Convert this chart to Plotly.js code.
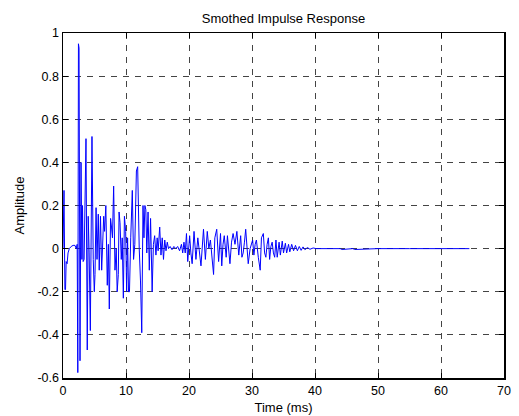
<!DOCTYPE html>
<html>
<head>
<meta charset="utf-8">
<script src="https://cdn.plot.ly/plotly-3.0.1.min.js"></script>
<style>html,body{margin:0;padding:0;background:#fff;}#chart{width:519px;height:416px;}</style>
</head>
<body>
<div id="chart"></div>
<script>
// Time (ms) and amplitude samples
var timeMs = [
  0.00,0.08,0.16,0.30,0.40,0.50,0.65,0.80,1.00,1.30,1.60,1.90,2.10,2.25,2.35,2.45,2.55,2.70,2.86,3.00,
  3.10,3.20,3.35,3.65,3.85,4.00,4.15,4.34,4.60,4.80,4.97,5.08,5.25,5.40,5.60,5.75,5.95,6.14,6.30,6.46,
  6.60,6.80,7.03,7.20,7.35,7.55,7.70,7.85,8.04,8.25,8.45,8.60,8.78,8.90,9.05,9.25,9.40,9.58,9.75,9.95,
  10.10,10.25,10.40,10.55,10.75,11.00,11.20,11.40,11.65,11.85,12.10,12.30,12.50,12.70,12.85,13.00,13.15,13.30,13.50,13.70,
  13.90,14.15,14.35,14.55,14.75,14.95,15.10,15.35,15.55,15.75,15.95,16.15,16.35,16.55,16.75,17.00,17.30,17.60,17.90,18.20,
  18.50,18.80,19.00,19.20,19.40,19.60,19.80,20.10,20.30,20.50,20.80,21.10,21.40,21.65,21.90,22.30,22.60,22.90,23.15,23.40,
  23.65,23.90,24.10,24.40,24.70,25.00,25.20,25.40,25.60,25.90,26.10,26.30,26.50,26.75,27.00,27.30,27.60,27.90,28.20,28.40,
  28.60,28.80,29.00,29.40,29.70,30.10,30.30,30.50,30.70,31.00,31.30,31.50,31.80,32.00,32.20,32.40,32.60,32.80,33.00,33.20,
  33.40,33.60,33.80,34.00,34.30,34.50,34.80,35.00,35.30,35.50,35.80,36.00,36.30,36.60,36.90,37.20,37.50,37.80,38.10,38.40,
  38.80,39.20,39.70,40.20,42.00,44.00,44.30,46.00,46.30,50.00,55.00,60.00,64.50
];
var amplitude = [
  0.00,0.27,0.27,-0.19,-0.19,-0.06,-0.07,-0.02,0.00,0.01,0.015,0.015,0.00,0.02,-0.575,0.95,0.93,-0.52,0.40,-0.05,
  0.20,-0.06,-0.05,0.51,-0.47,0.15,-0.02,-0.38,0.52,-0.05,-0.20,-0.12,0.19,-0.05,0.16,-0.10,0.15,-0.10,0.08,0.15,
  0.08,0.20,-0.17,0.02,-0.28,0.14,0.10,0.05,0.29,-0.10,0.00,-0.20,-0.12,0.17,0.12,-0.05,0.05,-0.23,0.15,0.08,
  -0.20,0.05,-0.20,-0.20,0.05,0.27,-0.05,0.02,0.36,0.38,0.00,-0.15,-0.39,0.20,0.05,0.20,0.18,-0.02,0.17,-0.10,
  0.14,-0.20,0.02,0.06,-0.03,0.05,-0.01,0.10,-0.03,0.05,-0.05,0.04,-0.01,0.03,0.00,0.01,-0.005,0.01,0.00,0.01,
  -0.01,0.02,-0.02,0.03,-0.02,0.07,-0.06,0.06,-0.02,-0.07,0.08,-0.05,0.05,-0.03,-0.08,0.09,-0.05,0.08,0.00,0.04,
  -0.03,-0.12,0.05,0.09,-0.06,0.07,-0.08,0.02,0.06,-0.04,0.06,-0.02,-0.07,0.03,0.07,0.02,0.08,-0.03,0.06,-0.04,
  -0.02,0.03,0.09,-0.07,0.00,0.04,-0.03,0.02,0.04,-0.04,-0.10,0.05,0.07,-0.02,-0.04,0.02,0.05,-0.05,0.01,0.03,
  -0.02,-0.04,0.04,-0.04,0.03,-0.03,0.035,-0.02,0.025,-0.02,0.02,-0.015,0.02,-0.01,0.015,-0.01,0.01,-0.008,0.008,-0.005,
  0.005,-0.003,0.003,0.00,0.00,0.00,-0.004,0.00,-0.004,0.00,0.00,0.00,0.00
];
var xTickVals = [0,10,20,30,40,50,60,70];
var xTickText = ["0","10","20","30","40","50","60","70"];
var yTickVals = [-0.6,-0.4,-0.2,0,0.2,0.4,0.6,0.8,1];
var yTickText = ["-0.6","-0.4","-0.2","0","0.2","0.4","0.6","0.8","1"];

var fontFam = "Liberation Sans, Arial, sans-serif";
var trace = {
  x: timeMs, y: amplitude, type: "scatter", mode: "lines",
  line: {color: "#0000ff", width: 1}, hoverinfo: "skip"
};
var axisCommon = {
  showline: true, linecolor: "#000", linewidth: 1.5, mirror: "ticks",
  ticks: "inside", ticklen: 5, tickcolor: "#000", tickwidth: 1,
  showgrid: true, gridcolor: "#444", gridwidth: 1, griddash: "6px,6px",
  zeroline: false, tickfont: {family: fontFam, size: 12.5, color: "#000"},
  tickmode: "array", fixedrange: true
};
var layout = {
  width: 519, height: 416,
  margin: {l: 63, r: 15, t: 33, b: 38},
  paper_bgcolor: "#fff", plot_bgcolor: "#fff",
  showlegend: false,
  title: {text: "Smothed Impulse Response", font: {family: fontFam, size: 13, color: "#000"},
          x: 0.5, xref: "paper", xanchor: "center", y: 1 - 18/416, yref: "container", yanchor: "middle"},
  xaxis: Object.assign({}, axisCommon, {
    range: [0, 70], tickvals: xTickVals, ticktext: xTickText,
    title: {text: "Time (ms)", font: {family: fontFam, size: 13, color: "#000"}, standoff: 6}
  }),
  yaxis: Object.assign({}, axisCommon, {
    range: [-0.6, 1], tickvals: yTickVals, ticktext: yTickText,
    title: {text: "Amplitude", font: {family: fontFam, size: 13, color: "#000"}, standoff: 10}
  })
};
Plotly.newPlot("chart", [trace], layout, {staticPlot: true, displayModeBar: false});
</script>
</body>
</html>
